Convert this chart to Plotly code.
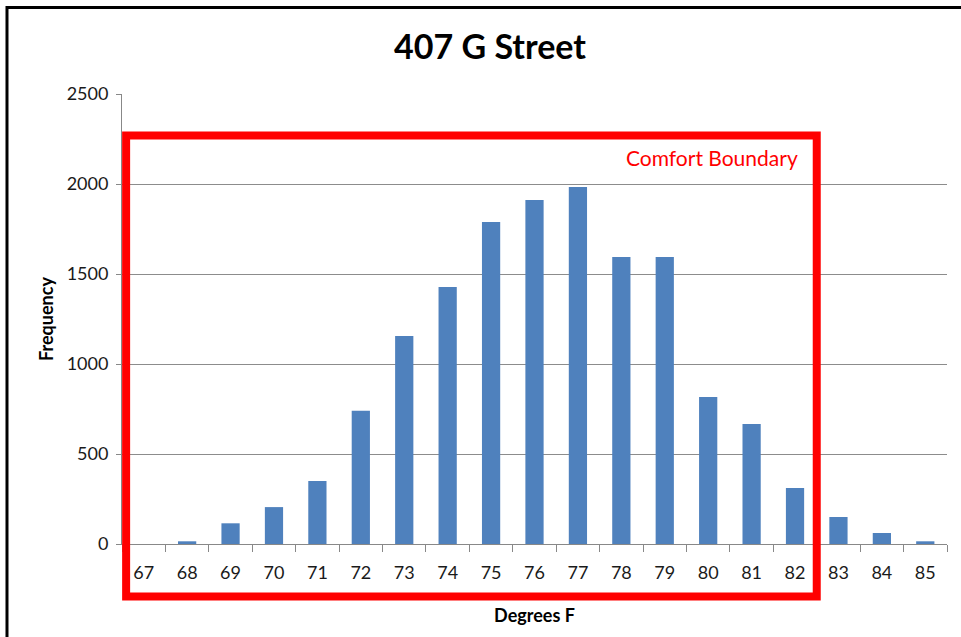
import plotly.graph_objects as go

# Frequency of hourly temperature readings per degree
degrees = ['67', '68', '69', '70', '71', '72', '73', '74', '75', '76',
           '77', '78', '79', '80', '81', '82', '83', '84', '85']
frequency = [0, 15, 115, 205, 350, 740, 1155, 1428, 1789, 1911,
             1983, 1594, 1594, 817, 667, 311, 150, 61, 15]

y_ticks = [0, 500, 1000, 1500, 2000, 2500]

FONT = 'Lato, "Open Sans", sans-serif'

fig = go.Figure()

fig.add_trace(go.Bar(
    x=degrees,
    y=frequency,
    marker_color='#4f81bd',
    marker_line_width=0,
    showlegend=False,
))

# Red comfort boundary box around 67-82 (paper coords so it isn't clipped)
fig.add_shape(
    type='rect', xref='paper', yref='paper',
    x0=0.005, x1=16 / 19, y0=-0.1167, y1=0.9078,
    line=dict(color='#ff0000', width=8),
    fillcolor='rgba(0,0,0,0)',
    layer='above',
)
fig.add_annotation(
    text='Comfort Boundary', xref='paper', yref='paper',
    x=0.822, y=0.858, xanchor='right', yanchor='middle',
    showarrow=False,
    font=dict(family=FONT, size=21, color='#ff0000'),
)

# Thin black chart border (right/bottom edges run off the page)
fig.add_shape(
    type='rect', xref='paper', yref='paper',
    x0=-0.1394, x1=1.08, y0=-0.3, y1=1.1922,
    line=dict(color='black', width=3),
    fillcolor='rgba(0,0,0,0)',
)

fig.update_layout(
    width=961, height=637,
    margin=dict(l=122, r=14, t=94, b=93),
    paper_bgcolor='white',
    plot_bgcolor='white',
    bargap=0.58,
    title=dict(
        text='<b>407 G Street</b>',
        x=490 / 961, xref='container', xanchor='center',
        y=1 - 47 / 637, yref='container', yanchor='middle',
        font=dict(family=FONT, size=34, color='black'),
    ),
    font=dict(family=FONT, size=18, color='#1a1a1a'),
    xaxis=dict(
        type='category',
        title=dict(text='<b>Degrees F</b>', font=dict(size=18, color='black'), standoff=27),
        showline=True, linecolor='#888888', linewidth=1,
        ticks='outside', tickson='boundaries', ticklen=7, tickcolor='#888888',
        ticklabelstandoff=12,
        showgrid=False,
        tickfont=dict(size=18),
    ),
    yaxis=dict(
        range=[0, 2500],
        tickvals=y_ticks,
        title=dict(text='<b>Frequency</b>', font=dict(size=18, color='black'), standoff=8),
        showline=True, linecolor='#888888', linewidth=1,
        ticks='outside', ticklen=5, tickcolor='#888888',
        ticklabelstandoff=4,
        showgrid=True, gridcolor='#8c8c8c', gridwidth=1,
        zeroline=False,
        tickfont=dict(size=18),
    ),
)

# drop the default page margin so the figure sits at the window's corner
fig.write_html("out.html", config={'displayModeBar': False},
               post_script="document.body.style.margin='0';"
                           "document.body.style.overflow='hidden';")
